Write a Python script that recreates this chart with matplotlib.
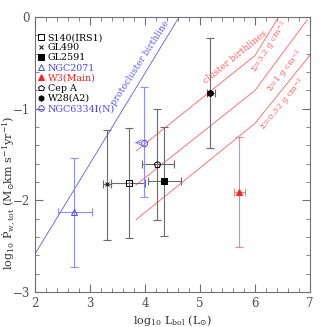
import matplotlib
matplotlib.use("Agg")
import matplotlib.pyplot as plt
from matplotlib.lines import Line2D
from matplotlib.ticker import MultipleLocator, FixedLocator

plt.rcParams["font.family"] = ["DejaVu Serif"]
plt.rcParams["mathtext.fontset"] = "dejavuserif"

# =============== DATA ==============================
names = ["S140(IRS1)", "GL490", "GL2591", "NGC2071", "W3(Main)",
         "Cep A", "W28(A2)", "NGC6334I(N)"]
logL = [3.70, 3.31, 4.35, 2.71, 5.71, 4.22, 5.19, 3.99]
logP = [-1.815, -1.825, -1.79, -2.13, -1.91, -1.60, -0.83, -1.37]
xlo = [3.39, 3.23, 4.06, 2.42, 5.62, 3.94, 5.12, 3.99]
xhi = [4.00, 3.39, 4.65, 3.03, 5.81, 4.53, 5.28, 3.99]
ylo = [-2.41, -2.43, -2.39, -2.73, -2.51, -2.21, -1.43, -1.96]
yhi = [-1.21, -1.23, -1.20, -1.54, -1.31, -1.00, -0.23, -0.76]
markers = ["s", "x", "s", "^", "^", "p", "h", "o"]
filled = [False, True, True, False, True, False, True, False]
colors = ["black", "black", "black", "#4848ff", "#ff2020",
          "black", "black", "#4848ff"]
err_colors = ["#6a6a6a", "#6a6a6a", "#6a6a6a", "#8c8cff", "#ff8080",
              "#6a6a6a", "#6a6a6a", "#8c8cff"]

# NGC6334I(N): upper limit in L (arrow to the left)
arrow_x = [3.99, 3.76]
arrow_y = [-1.37, -1.37]

# protocluster birthline
proto_x = [2.0, 4.62]
proto_y = [-2.585, 0.0]

# cluster birthlines (piecewise)
cl_x = [[3.84, 6.0, 6.43], [3.84, 6.0, 6.95], [3.84, 6.0, 7.0]]
cl_y = [[-1.46, -0.42, 0.0], [-1.83, -0.80, -0.03], [-2.21, -1.16, -0.415]]

BLUE = "#5a5aff"
RED = "#ff6060"

fig = plt.figure(figsize=(3.27, 3.27), dpi=100)
ax = fig.add_axes([35 / 327, 35 / 327, 275 / 327, 275 / 327])

ax.plot(proto_x, proto_y, color=BLUE, lw=0.6)
for xs, ys in zip(cl_x, cl_y):
    ax.plot(xs, ys, color=RED, lw=0.6)

for i in range(len(names)):
    ax.errorbar(logL[i], logP[i],
                xerr=[[logL[i] - xlo[i]], [xhi[i] - logL[i]]],
                yerr=[[logP[i] - ylo[i]], [yhi[i] - logP[i]]],
                fmt="none", ecolor=err_colors[i], elinewidth=0.8,
                capsize=3, capthick=0.8, zorder=2)
    if markers[i] == "x":
        ax.plot(logL[i], logP[i], "x", color=colors[i], ms=3.5, mew=0.7, zorder=3)
    else:
        ax.plot(logL[i], logP[i], markers[i], ms=4.5,
                mfc=colors[i] if filled[i] else "none",
                mec=colors[i], mew=0.7, zorder=3)

ax.annotate("", xy=(arrow_x[1], arrow_y[1]), xytext=(arrow_x[0], arrow_y[0]),
            arrowprops=dict(arrowstyle="->", color="#8c8cff", lw=0.8))

ax.text(3.91, -0.50, "protocluster birthline", color=BLUE, fontsize=6.5,
        rotation=57, ha="center", va="center", rotation_mode="anchor")
ax.text(5.64, -0.44, "cluster birthlines", color=RED, fontsize=6.5,
        rotation=39, ha="center", va="center", rotation_mode="anchor")
ax.text(6.27, -0.33, r"$\Sigma$=3.2 g cm$^{-2}$", color=RED, fontsize=6,
        rotation=58, ha="center", va="center", rotation_mode="anchor")
ax.text(6.56, -0.60, r"$\Sigma$=1 g cm$^{-2}$", color=RED, fontsize=6,
        rotation=52, ha="center", va="center", rotation_mode="anchor")
ax.text(6.52, -0.96, r"$\Sigma$=0.32 g cm$^{-2}$", color=RED, fontsize=6,
        rotation=51, ha="center", va="center", rotation_mode="anchor")

handles = []
for i in range(len(names)):
    if markers[i] == "x":
        h = Line2D([], [], ls="none", marker="x", color=colors[i], ms=3.5, mew=0.7)
    else:
        h = Line2D([], [], ls="none", marker=markers[i], ms=4,
                   mfc=colors[i] if filled[i] else "none",
                   mec=colors[i], mew=0.7)
    handles.append(h)
leg = ax.legend(handles, names, loc="upper left", frameon=False, fontsize=6.8,
                handlelength=0.5, handletextpad=0.45, labelspacing=0.12,
                borderaxespad=0.2, borderpad=0.2, bbox_to_anchor=(0.0, 0.955))
for t, c in zip(leg.get_texts(), colors):
    t.set_color(c)

ax.set_xlim(2, 7)
ax.set_ylim(-3, 0)
ax.xaxis.set_major_locator(MultipleLocator(1))
ax.xaxis.set_minor_locator(MultipleLocator(0.2))
ax.yaxis.set_major_locator(FixedLocator([0, -1, -2, -3]))
ax.yaxis.set_minor_locator(MultipleLocator(0.2))
ax.set_yticklabels(["0", "\u22121", "\u22122", "\u22123"])
ax.tick_params(which="both", direction="in", top=True, right=True,
               color="#707070", labelcolor="#505050", labelsize=8.5)
ax.tick_params(which="major", length=6, width=0.8)
ax.tick_params(which="minor", length=3, width=0.6)
for s in ax.spines.values():
    s.set_color("#707070")
    s.set_linewidth(0.8)

ax.set_xlabel(r"log$_{10}$ L$_{\rm bol}$ (L$_{\odot}$)", fontsize=8, color="#303030")
ax.set_ylabel(r"log$_{10}$ $\dot{\rm P}_{\rm w,tot}$ (M$_{\odot}$km s$^{-1}$yr$^{-1}$)",
              fontsize=8, color="#303030")
ax.xaxis.set_label_coords(0.5, -0.075)
ax.yaxis.set_label_coords(-0.065, 0.36)

fig.savefig("out.png", dpi=100)
